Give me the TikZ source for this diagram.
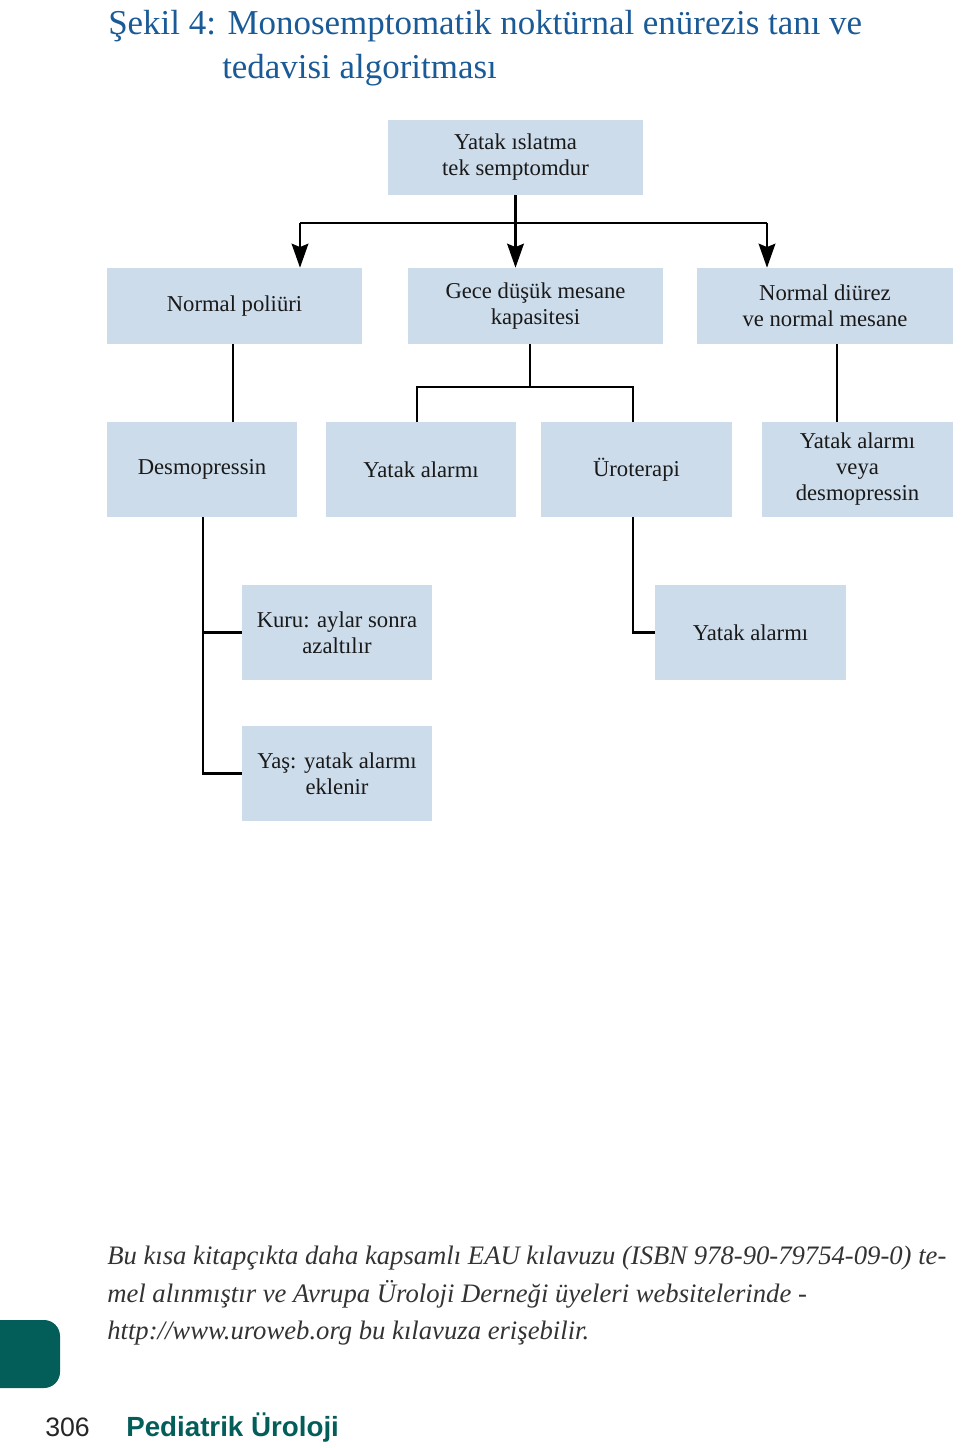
\documentclass[tikz,border=0pt]{standalone}
\usepackage{fontspec}
\setmainfont{Liberation Serif}
\setsansfont{Liberation Sans}
\usetikzlibrary{arrows.meta}
\definecolor{boxfill}{HTML}{CDDCEB}
\definecolor{titleblue}{HTML}{1A5A97}
\definecolor{teal}{HTML}{035E5A}
\tikzset{
  box/.style={fill=boxfill, draw=none, inner sep=0pt, align=center, text=black!90, font=\fontsize{17}{19.5}\selectfont},
  conn/.style={line width=1.9pt, black},
  arr/.style={conn, -{Stealth[length=18pt, width=12.5pt, inset=2.5pt]}},
  ttl/.style={anchor=base west, inner sep=0pt, text=titleblue, font=\fontsize{26.2}{30}\selectfont},
  note/.style={anchor=base west, inner sep=0pt, text=black!80, font=\fontsize{20}{24}\selectfont\itshape}
}
\begin{document}
\begin{tikzpicture}[x=0.75pt, y=-0.75pt]
\useasboundingbox (0,0) rectangle (960,1448);
% title
\node[ttl] (t1) at (108,35) {Şekil 4: Monosemptomatik noktürnal enürezis tanı ve};
\node[ttl] (t2) at (222,79) {tedavisi algoritması};
% boxes
\node[box, minimum width=191.25pt, minimum height=56.25pt] (top) at (515.5,157.5) {Yatak ıslatma\\tek semptomdur};
\node[box, minimum width=191.25pt, minimum height=57pt] (np) at (234.5,306) {Normal poliüri};
\node[box, minimum width=191.25pt, minimum height=57pt] (gece) at (535.5,306) {Gece düşük mesane\\kapasitesi};
\node[box, minimum width=192pt, minimum height=57pt] (nd) at (825,306) {Normal diürez\\ve normal mesane};
\node[box, minimum width=142.5pt, minimum height=71.25pt] (desmo) at (202,469.5) {Desmopressin};
\node[box, minimum width=142.5pt, minimum height=71.25pt] (ya) at (421,469.5) {Yatak alarmı};
\node[box, minimum width=143.25pt, minimum height=71.25pt] (uro) at (636.5,469.5) {Üroterapi};
\node[box, minimum width=143.25pt, minimum height=71.25pt] (yad) at (857.5,469.5) {Yatak alarmı\\veya\\desmopressin};
\node[box, minimum width=142.5pt, minimum height=71.25pt] (kuru) at (337,632.5) {Kuru: aylar sonra\\azaltılır};
\node[box, minimum width=143.25pt, minimum height=71.25pt] (ya2) at (750.5,632.5) {Yatak alarmı};
\node[box, minimum width=142.5pt, minimum height=71.25pt] (yas) at (337,773.5) {Yaş: yatak alarmı\\eklenir};
% connectors
\coordinate (hl) at (300,223);
\coordinate (hr) at (767,223);
\draw[conn] (hl) -- (hr);
\draw[arr] (top.south) -- (top.south |- gece.north);
\draw[arr] (hl) -- (hl |- np.north);
\draw[arr] (hr) -- (hr |- nd.north);
\coordinate (npd) at (233,344);
\draw[conn] (npd) -- (npd |- desmo.north);
\coordinate (nd1) at (837,344);
\draw[conn] (nd1) -- (nd1 |- yad.north);
\coordinate (g1) at (530,344);
\coordinate (g2) at (530,387);
\coordinate (gl) at (417,387);
\coordinate (gr) at (633,387);
\draw[conn] (g1) -- (g2);
\draw[conn] (gl |- ya.north) -- (gl) -- (gr) -- (gr |- uro.north);
\coordinate (d1) at (203,517);
\draw[conn] (d1) -- (d1 |- yas.west) -- (yas.west);
\draw[conn] (d1 |- kuru.west) -- (kuru.west);
\coordinate (u1) at (633,517);
\draw[conn] (u1) -- (u1 |- ya2.west) -- (ya2.west);
% footer note
\node[note] (n1) at (107,1264) {Bu kısa kitapçıkta daha kapsamlı EAU kılavuzu (ISBN 978-90-79754-09-0) te-};
\node[note] (n2) at (107,1302) {mel alınmıştır ve Avrupa Üroloji Derneği üyeleri websitelerinde -};
\node[note] (n3) at (107,1339) {http://www.uroweb.org bu kılavuza erişebilir.};
% page tab
\fill[teal, rounded corners=12pt] (-20,1320) rectangle (60,1388);
\node[anchor=base west, inner sep=0pt, text=black!85, font=\sffamily\fontsize{20}{24}\selectfont] (pg) at (45,1436) {306};
\node[anchor=base west, inner sep=0pt, text=teal, font=\sffamily\bfseries\fontsize{20.8}{24}\selectfont] (pu) at (126,1436) {Pediatrik Üroloji};
\end{tikzpicture}
\end{document}
